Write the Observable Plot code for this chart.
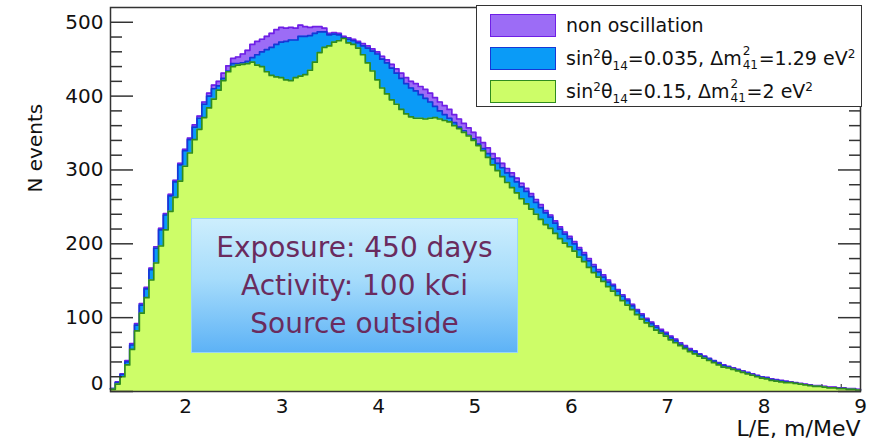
<!DOCTYPE html>
<html>
<head>
<meta charset="utf-8">
<script src="https://cdn.jsdelivr.net/npm/d3@7"></script>
<script src="https://cdn.jsdelivr.net/npm/@observablehq/plot@0.6"></script>
<style>
  body { margin: 0; background: #fff; }
  #wrap { position: relative; width: 879px; height: 440px; font-family: "DejaVu Sans", sans-serif; }
  #legend {
    position: absolute; left: 476px; top: 5px; width: 386px; height: 102px;
    border: 1.5px solid #333; background: #fff; box-sizing: border-box;
  }
  #legend .row { position: absolute; left: 13px; height: 24px; display: flex; align-items: center; }
  #legend .sw { width: 66px; height: 23px; box-sizing: border-box; border: 1.5px solid; flex: none; }
  #legend .lt { margin-left: 10px; font-size: 19px; color: #111; white-space: nowrap; line-height: 24px; }
  #legend sup, #legend sub { font-size: 12px; line-height: 0; }
  .ss { position: relative; display: inline-block; width: 16px; height: 19px; margin-left: 1px; }
  .ss .hi, .ss .lo { position: absolute; left: 0; font-size: 12px; line-height: 12px; }
  .ss .hi { top: -1px; }
  .ss .lo { top: 13px; }
  #note {
    position: absolute; left: 191px; top: 218px; width: 327px; height: 135px; box-sizing: border-box;
    border: 1.5px solid #9ad6f4;
    background: linear-gradient(to bottom, #cdeefd 0%, #a6dcfb 45%, #5db2f6 100%);
    color: #6a2b5e; font-size: 28px; text-align: center; line-height: 38px; padding-top: 10px;
  }
</style>
</head>
<body>
<div id="wrap"></div>
<script>
// Histogram range on the L/E axis (m/MeV) and the N events axis
const xMin = 1.22;
const xMax = 9;
const yMax = 520;

// Expected counts per L/E bin: no oscillation
const nonOsc = [
  4, 13, 24, 42, 65, 92, 119, 141, 167, 196,
  221, 241, 267, 286, 309, 328, 343, 361, 373, 392,
  404, 415, 420, 431, 441, 451, 453, 457, 462, 470,
  474, 477, 481, 485, 490, 493, 492, 493, 492, 496,
  494, 493, 494, 494, 492, 485, 486, 485, 481, 479,
  477, 474, 471, 468, 464, 460, 454, 449, 443, 437,
  431, 425, 420, 417, 413, 409, 404, 398, 392, 387,
  382, 375, 369, 363, 357, 351, 344, 337, 330, 322,
  316, 309, 302, 296, 289, 282, 275, 268, 260, 253,
  245, 239, 231, 223, 216, 210, 203, 195, 188, 180,
  172, 165, 158, 151, 145, 138, 131, 125, 118, 111,
  105, 99, 94, 89, 84, 80, 75, 71, 66, 62,
  58, 55, 51, 48, 45, 42, 39, 36, 34, 32,
  30, 28, 26, 24, 22, 20, 19, 17, 16, 15,
  14, 13, 12, 11, 10, 9, 8, 8, 7, 6,
  6, 5, 5, 4, 4, 3
];

// sin^2(theta14) = 0.035, dm^2_41 = 1.29 eV^2
const osc035 = [
  4, 12, 23, 40, 63, 90, 117, 139, 165, 194,
  219, 239, 265, 284, 307, 326, 341, 358, 370, 389,
  400, 410, 414, 424, 434, 444, 444, 445, 447, 452,
  456, 460, 463, 466, 470, 473, 474, 476, 476, 481,
  481, 482, 485, 487, 487, 483, 484, 483, 479, 477,
  475, 472, 468, 465, 461, 457, 450, 445, 438, 431,
  424, 417, 411, 407, 402, 397, 392, 386, 380, 375,
  370, 364, 358, 353, 347, 342, 335, 329, 322, 315,
  309, 303, 296, 291, 284, 277, 271, 264, 256, 249,
  242, 236, 228, 220, 213, 207, 200, 192, 185, 177,
  169, 162, 155, 148, 143, 136, 129, 123, 116, 109,
  103, 97, 92, 87, 82, 78, 73, 69, 64, 60,
  56, 54, 50, 47, 44, 41, 38, 35, 33, 31,
  29, 27, 25, 23, 21, 19, 18, 16, 15, 14,
  13, 12, 11, 10, 9, 8, 7, 7, 6, 5,
  5, 4, 4, 3, 3, 2
];

// sin^2(theta14) = 0.15, dm^2_41 = 2 eV^2
const osc015 = [
  3, 10, 20, 36, 57, 82, 106, 127, 151, 174,
  197, 219, 244, 263, 285, 305, 323, 341, 355, 371,
  384, 396, 408, 421, 433, 440, 442, 443, 444, 446,
  442, 440, 433, 428, 426, 425, 422, 421, 425, 427,
  429, 435, 446, 459, 466, 468, 473, 475, 478, 472,
  470, 465, 456, 445, 434, 422, 411, 403, 395, 389,
  382, 376, 372, 370, 370, 369, 370, 371, 369, 367,
  365, 360, 356, 351, 346, 340, 333, 326, 317, 307,
  299, 291, 283, 276, 269, 261, 254, 247, 240, 233,
  226, 221, 214, 207, 201, 196, 190, 182, 176, 168,
  161, 155, 149, 142, 136, 130, 123, 117, 111, 104,
  98, 93, 88, 83, 79, 75, 70, 66, 62, 58,
  54, 51, 48, 45, 42, 39, 36, 33, 32, 30,
  28, 26, 24, 22, 20, 18, 17, 15, 14, 13,
  12, 12, 11, 10, 9, 8, 7, 7, 6, 5,
  5, 4, 4, 3, 3, 2
];

const xTickValues = [2, 3, 4, 5, 6, 7, 8, 9];
const yTickValues = [0, 100, 200, 300, 400, 500];

const legendLabels = [
  "non oscillation",
  "sin<sup>2</sup>θ<sub>14</sub>=0.035, Δm<span class=\"ss\"><span class=\"hi\">2</span><span class=\"lo\">41</span></span>=1.29 eV<sup>2</sup>",
  "sin<sup>2</sup>θ<sub>14</sub>=0.15, Δm<span class=\"ss\"><span class=\"hi\">2</span><span class=\"lo\">41</span></span>=2 eV<sup>2</sup>"
];
const fillColors = ["#9c6cf6", "#0a9bf7", "#cdfd68"];
const lineColors = ["#6f1fe6", "#1537d6", "#2f8c1e"];

const noteLines = ["Exposure: 450 days", "Activity: 100 kCi", "Source outside"];

// Each bin becomes a step point at its left edge; a closing point ends the last bin.
const binWidth = (xMax - xMin) / nonOsc.length;
const toSteps = (values) => [
  ...values.map((v, i) => ({x: xMin + i * binWidth, y: v})),
  {x: xMax, y: values[values.length - 1]}
];
const series = [nonOsc, osc035, osc015].map(toSteps);

const xMinor = d3.range(14, 91, 2).map((d) => d / 10).filter((d) => d % 1 !== 0);
const yMinor = d3.range(0, yMax, 20).filter((d) => d % 100 !== 0);

const histMarks = series.flatMap((pts, k) => [
  Plot.areaY(pts, {x: "x", y: "y", curve: "step-after", fill: fillColors[k]}),
  Plot.lineY(pts, {x: "x", y: "y", curve: "step-after", stroke: lineColors[k], strokeWidth: 1.7})
]);

const chart = Plot.plot({
  width: 879,
  height: 440,
  marginLeft: 110,
  marginRight: 19,
  marginTop: 7,
  marginBottom: 49,
  style: {fontFamily: "DejaVu Sans, sans-serif", fontSize: "20px", color: "#000", background: "#fff"},
  x: {domain: [xMin, xMax]},
  y: {domain: [0, yMax]},
  marks: [
    // x ticks sit behind the histograms, pointing up into the frame
    Plot.axisX(xMinor, {tickSize: -7, fill: "none", label: null, stroke: "#222"}),
    Plot.axisX(xTickValues, {tickSize: -14, fill: "none", label: null, stroke: "#222"}),
    ...histMarks,
    // axis labels
    Plot.axisX(xTickValues, {tickSize: 0, tickPadding: 7, label: null, fontSize: 20, fill: "#111"}),
    Plot.axisY(yTickValues.filter((d) => d > 0), {tickSize: 0, tickPadding: 7, label: null, fontSize: 20, fill: "#111"}),
    Plot.axisY([0], {tickSize: 0, tickPadding: 7, label: null, fontSize: 20, fill: "#111", dy: -8}),
    // inward ticks on the left and right edges
    Plot.axisY(yTickValues, {anchor: "left", tickSize: -23, fill: "none", label: null, stroke: "#333", strokeWidth: 1.5}),
    Plot.axisY(yMinor, {anchor: "left", tickSize: -12, fill: "none", label: null, stroke: "#333", strokeWidth: 1.5}),
    Plot.axisY(yTickValues, {anchor: "right", tickSize: -23, fill: "none", label: null, stroke: "#333", strokeWidth: 1.5}),
    Plot.axisY(yMinor, {anchor: "right", tickSize: -12, fill: "none", label: null, stroke: "#333", strokeWidth: 1.5}),
    Plot.frame({stroke: "#333", strokeWidth: 1.5}),
    Plot.text(["N events"], {frameAnchor: "left", dx: -75, rotate: -90, fontSize: 20, fill: "#111", dy: -7}),
    Plot.text(["L/E, m/MeV"], {frameAnchor: "bottom-right", textAnchor: "end", lineAnchor: "middle", dy: 37, fontSize: 22, fill: "#111"})
  ]
});

const wrap = document.getElementById("wrap");
wrap.appendChild(chart);

// Legend box
const legend = document.createElement("div");
legend.id = "legend";
const rowTops = [7, 40, 73];
legendLabels.forEach((label, k) => {
  const row = document.createElement("div");
  row.className = "row";
  row.style.top = rowTops[k] + "px";
  const sw = document.createElement("span");
  sw.className = "sw";
  sw.style.background = fillColors[k];
  sw.style.borderColor = lineColors[k];
  const lt = document.createElement("span");
  lt.className = "lt";
  lt.innerHTML = label;
  row.appendChild(sw);
  row.appendChild(lt);
  legend.appendChild(row);
});
wrap.appendChild(legend);

// Exposure note
const note = document.createElement("div");
note.id = "note";
note.innerHTML = noteLines.map((t) => `<div>${t}</div>`).join("");
wrap.appendChild(note);
</script>
</body>
</html>
